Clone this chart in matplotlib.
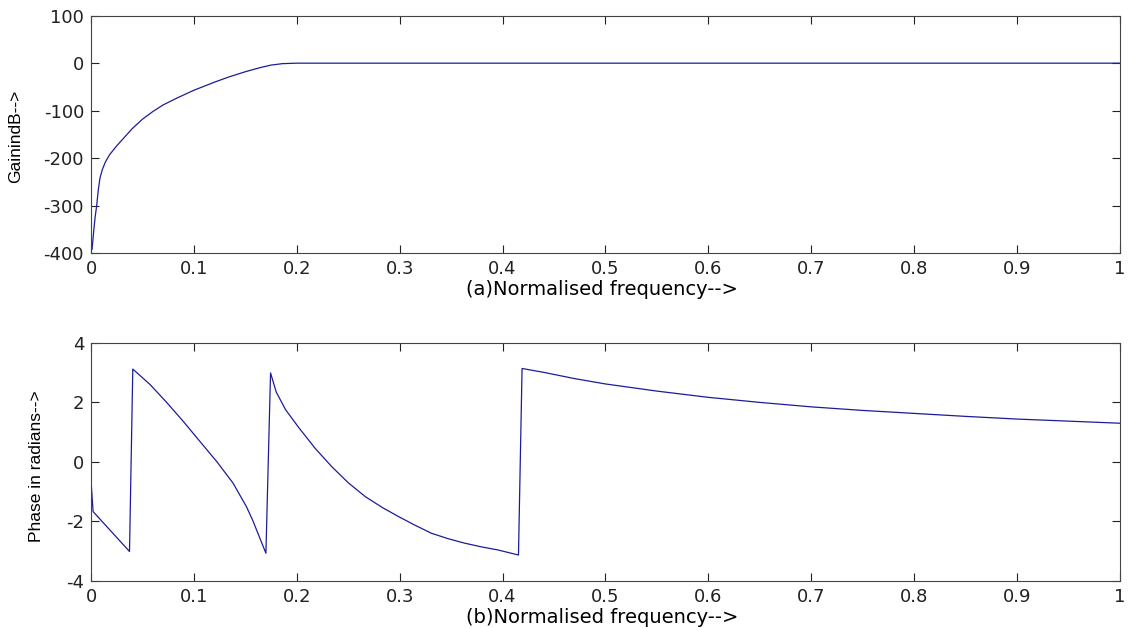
import numpy as np
import matplotlib.pyplot as plt

# gain response (dB)
gain_f = [0.001, 0.002, 0.003, 0.004, 0.0055, 0.007, 0.0087, 0.011, 0.014,
          0.018, 0.025, 0.03, 0.04, 0.05, 0.06, 0.07, 0.083, 0.1, 0.12,
          0.134, 0.15, 0.165, 0.175, 0.186, 0.2, 1.0]
gain_db = [-392, -368, -345, -324, -300, -268, -242, -224, -208,
           -193, -174, -162, -138, -118, -102, -88, -74, -57, -40,
           -29, -18, -9, -4, -1, 0, 0]

# phase response (radians)
phase_f = [0.0, 0.002, 0.0374, 0.0406, 0.0574, 0.0735, 0.0897, 0.1058, 0.122,
           0.138, 0.151, 0.157, 0.170, 0.1745, 0.18, 0.189, 0.202, 0.218,
           0.234, 0.25, 0.2667, 0.283, 0.299, 0.315, 0.331, 0.347, 0.363,
           0.38, 0.3956, 0.4155, 0.419, 0.44, 0.47, 0.5, 0.55, 0.6, 0.65,
           0.7, 0.75, 0.8, 0.85, 0.9, 0.95, 1.0]
phase_rad = [-0.63, -1.67, -3.01, 3.12, 2.6, 2.0, 1.36, 0.69, 0.02,
             -0.71, -1.5, -1.95, -3.07, 2.99, 2.35, 1.76, 1.15, 0.45,
             -0.16, -0.7, -1.17, -1.53, -1.84, -2.13, -2.40, -2.58, -2.73,
             -2.86, -2.96, -3.13, 3.14, 3.01, 2.8, 2.62, 2.38, 2.17, 2.0,
             1.85, 1.73, 1.63, 1.53, 1.44, 1.37, 1.30]

xticks = [0, 0.1, 0.2, 0.3, 0.4, 0.5, 0.6, 0.7, 0.8, 0.9, 1]
xticklabels = ['0', '0.1', '0.2', '0.3', '0.4', '0.5', '0.6', '0.7', '0.8', '0.9', '1']
gain_ticks = [-400, -300, -200, -100, 0, 100]
phase_ticks = [-4, -2, 0, 2, 4]

plt.rcParams['font.family'] = ['DejaVu Sans']

fig = plt.figure(figsize=(11.28, 6.28), dpi=100)
ax1 = fig.add_axes([0.0807, 0.597, 0.912, 0.378])
ax2 = fig.add_axes([0.0807, 0.075, 0.912, 0.379])

line_col = '#1c1c9a'
ax1.plot(gain_f, gain_db, color=line_col, lw=0.9)
ax2.plot(phase_f, phase_rad, color=line_col, lw=0.9)

for ax, yt in ((ax1, gain_ticks), (ax2, phase_ticks)):
    ax.set_xlim(0, 1)
    ax.set_ylim(yt[0], yt[-1])
    ax.set_xticks(xticks)
    ax.set_xticklabels(xticklabels)
    ax.set_yticks(yt)
    ax.set_yticklabels([str(v) for v in yt])
    ax.tick_params(direction='in', top=True, right=True, length=6,
                   width=0.8, labelsize=13, colors='#222222')
    ax.tick_params(axis='x', pad=5)
    ax.tick_params(axis='y', pad=5)
    for s in ax.spines.values():
        s.set_color('#444444')
        s.set_linewidth(0.8)

lab_font = dict(family='Liberation Sans', fontsize=12.5)
ax1.set_xlabel('(a)Normalised frequency-->', fontsize=14)
ax1.set_ylabel('GainindB-->', **lab_font)
ax2.set_xlabel('(b)Normalised frequency-->', fontsize=14)
ax2.set_ylabel('Phase in radians-->', **lab_font)
ax1.xaxis.set_label_coords(0.497, -0.115)
ax2.xaxis.set_label_coords(0.497, -0.115)
ax1.yaxis.set_label_coords(-0.066, 0.49)
ax2.yaxis.set_label_coords(-0.046, 0.48)

plt.savefig('out.png', dpi=100)
